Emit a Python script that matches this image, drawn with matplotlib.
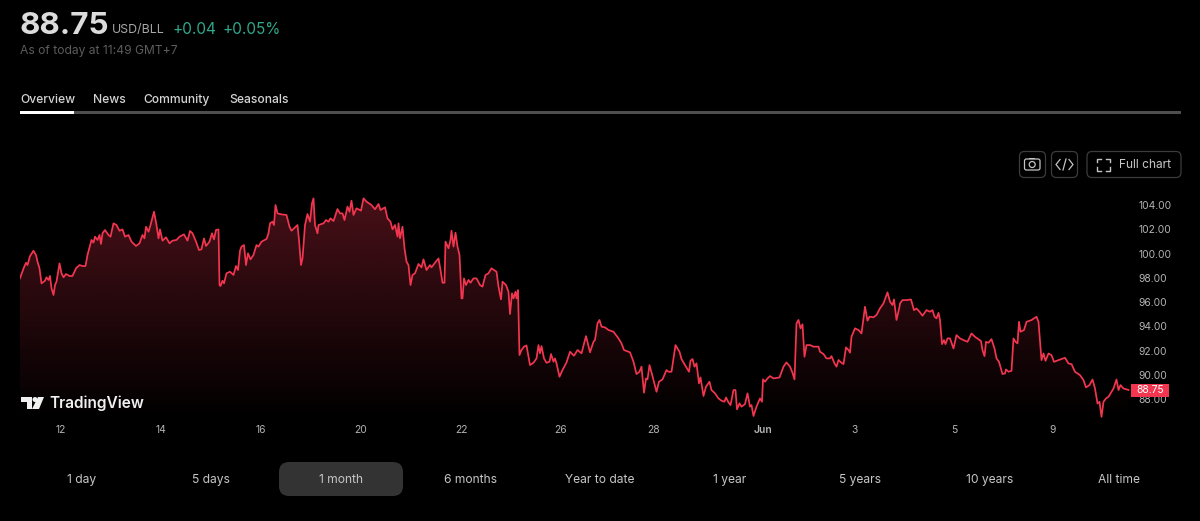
import numpy as np
import matplotlib
matplotlib.use("Agg")
import matplotlib.pyplot as plt
from matplotlib.patches import FancyBboxPatch, Polygon, Rectangle, Circle

plt.rcParams['font.family'] = ['Inter', 'DejaVu Sans']

# time is in trading days counted from the "12" tick, split by stretch of the month
days_a = [-0.82,-0.79,-0.74,-0.70,-0.67,-0.62,-0.55,-0.50,-0.47,-0.43,-0.39,-0.32,-0.29,-0.25,-0.22,-0.19,-0.15,-0.12,-0.09,-0.03,0.01,0.05,0.10,0.17,0.23,0.30,0.37,0.43,0.49,0.53,0.57,0.61,0.65,0.68,0.73,0.77,0.80,0.83,0.88,0.95,0.99,1.05,1.11,1.17,1.23,1.28,1.35,1.41,1.50,1.57,1.63,1.67,1.70,1.75,1.79,1.86,1.91,1.95,1.98,2.03,2.10,2.17,2.23,2.31,2.37,2.46,2.53,2.58,2.63,2.70,2.76,2.81,2.86,2.90,2.97,3.02,3.06,3.10,3.15,3.17,3.19,3.23,3.26,3.31,3.38,3.45,3.50,3.54,3.58,3.61,3.66,3.70,3.74,3.79,3.85,3.91,3.95,4.01,4.11,4.15,4.18,4.23,4.26,4.29,4.33,4.41,4.51,4.57,4.61,4.68,4.73,4.76]
price_a = [97.95,98.31,98.86,99.24,99.05,99.79,100.23,99.88,99.33,98.78,97.54,97.76,98.04,97.82,98.15,97.13,96.58,97.40,97.68,99.19,98.37,98.04,98.31,98.15,98.15,98.78,99.05,98.97,98.97,99.88,100.51,101.12,100.90,101.39,101.12,101.53,100.79,101.67,101.94,101.53,101.39,102.49,102.35,101.88,101.99,101.39,101.53,100.98,100.62,100.84,101.53,101.25,102.21,101.80,102.35,103.45,102.35,101.25,101.99,101.06,101.34,100.84,101.06,101.12,101.39,101.58,101.06,101.86,101.67,100.98,100.29,100.35,101.25,100.62,100.98,101.67,101.17,101.94,101.99,97.40,97.32,97.76,97.54,98.37,98.50,98.23,98.97,98.64,100.23,100.57,100.70,99.05,100.02,99.52,99.88,100.70,100.57,100.98,101.20,101.67,102.49,102.63,102.35,104.00,103.31,103.23,103.18,102.21,101.88,102.16,102.35,101.12]

days_b = [4.80,4.83,4.88,4.93,4.98,5.02,5.05,5.08,5.13,5.15,5.25,5.30,5.35,5.39,5.45,5.53,5.58,5.63,5.67,5.73,5.77,5.81,5.85,5.91,6.00,6.05,6.11,6.21,6.28,6.35,6.39,6.48,6.53,6.59,6.63,6.68,6.73,6.75,6.78,6.83,6.87,6.91,6.95,6.99,7.03,7.08,7.15,7.21,7.25,7.31,7.38,7.41,7.48,7.55,7.59,7.63,7.67,7.69,7.75,7.79,7.81,7.85,7.89,7.93,7.97,8.01,8.03,8.06,8.10,8.15,8.19,8.25,8.31,8.38,8.43,8.49,8.55,8.61,8.71,8.75,8.80,8.83,8.90,8.95,8.98,9.02,9.05,9.09,9.11,9.14,9.17,9.21,9.26,9.31,9.38,9.45,9.51,9.55,9.58,9.61,9.66,9.71,9.77,9.80,9.85,9.88,9.91,9.97,10.03,10.11,10.18,10.26,10.33,10.41,10.50,10.58,10.65,10.68,10.73,10.77]
price_b = [99.05,99.60,102.35,103.26,102.63,104.14,104.55,102.35,101.67,102.35,102.49,102.76,102.63,102.90,102.68,103.67,103.31,103.31,102.76,103.87,103.45,104.36,103.18,103.73,103.54,104.55,104.28,104.00,103.65,104.09,103.59,103.81,102.90,102.63,101.99,102.35,101.39,102.49,101.25,102.21,100.43,99.33,99.05,97.40,98.23,98.37,99.14,98.86,99.52,98.64,99.05,98.86,99.24,99.60,98.64,97.59,97.59,100.98,100.43,101.12,101.88,100.57,101.72,100.57,99.88,96.30,96.30,97.95,97.40,97.82,97.59,97.95,97.95,97.40,97.27,98.23,98.37,98.78,98.50,97.27,96.22,97.68,97.40,96.85,95.01,96.72,96.30,96.85,96.30,96.99,91.63,92.04,92.32,92.42,90.80,90.99,91.35,92.45,91.77,92.37,91.35,90.99,91.08,91.71,91.08,91.35,90.94,89.84,90.39,91.02,91.90,91.57,92.04,91.77,93.19,91.85,92.73,92.87,94.24,94.52]

days_c = [10.81,10.88,10.95,11.05,11.15,11.21,11.26,11.38,11.45,11.51,11.57,11.61,11.66,11.70,11.73,11.77,11.83,11.91,11.96,12.03,12.11,12.15,12.21,12.29,12.37,12.41,12.48,12.56,12.59,12.63,12.67,12.71,12.76,12.79,12.85,12.90,12.97,13.01,13.08,13.15,13.21,13.27,13.30,13.35,13.39,13.45,13.49,13.52,13.57,13.61,13.68,13.73,13.78,13.81,13.85,13.91,13.98,14.02,14.04,14.08,14.13,14.18,14.25,14.37,14.45,14.51,14.58,14.63,14.67,14.71,14.75,14.79,14.83,14.87,14.91,14.98,15.05,15.15,15.18,15.25,15.31,15.38,15.41,15.47,15.51,15.55,15.61,15.65,15.70,15.75,15.78,15.81,15.88,15.95,16.01,16.08,16.13,16.17,16.25,16.31,16.38,16.45,16.53,16.58,16.63,16.66,16.71,16.77]
price_c = [93.97,93.91,93.69,93.55,93.00,92.59,92.04,91.85,91.08,90.06,90.25,90.67,88.52,89.70,89.62,90.80,89.89,88.60,89.43,89.62,90.39,90.25,90.25,92.45,91.90,91.30,90.80,90.25,91.16,91.30,90.67,90.94,89.29,89.78,88.25,89.02,89.43,88.74,88.47,88.05,87.86,87.78,88.13,87.72,87.50,88.74,88.74,87.15,87.64,87.37,87.58,88.47,87.37,87.50,86.60,87.37,88.05,87.78,89.62,89.43,89.70,89.89,89.70,89.78,90.67,91.02,90.67,90.17,89.62,94.24,94.52,93.83,94.16,91.49,92.45,92.45,92.32,92.32,91.90,91.71,91.35,91.35,91.54,90.94,90.67,91.22,90.99,90.88,92.26,92.04,91.82,93.14,93.83,93.69,93.41,95.61,94.46,94.79,94.74,94.93,95.48,95.89,96.80,96.03,95.75,96.22,94.52,95.61]

days_d = [16.78,16.83,16.91,17.00,17.06,17.11,17.17,17.23,17.31,17.38,17.43,17.47,17.51,17.55,17.58,17.62,17.66,17.69,17.73,17.78,17.85,17.91,17.98,18.05,18.13,18.21,18.28,18.40,18.43,18.47,18.50,18.55,18.61,18.67,18.71,18.76,18.83,18.88,18.90,18.95,19.01,19.05,19.09,19.13,19.16,19.19,19.26,19.31,19.41,19.51,19.55,19.61,19.65,19.69,19.75,19.81,19.86,19.95,20.08,20.15,20.21,20.28,20.38,20.45,20.50,20.57,20.63,20.68,20.73,20.77,20.81,20.85,20.90,20.95,21.05,21.11,21.15,21.19,21.25,21.35]
price_d = [95.89,96.16,96.16,96.21,95.33,95.47,95.20,94.87,95.33,95.20,95.33,94.79,94.65,95.11,94.51,92.53,92.86,92.53,93.00,93.00,92.17,93.27,93.00,92.86,92.72,93.41,93.13,92.78,92.03,91.54,92.72,92.64,92.94,92.17,91.35,91.07,90.06,90.11,90.44,90.25,90.33,93.00,92.72,92.59,94.37,93.55,93.69,94.37,94.51,94.79,94.37,91.21,91.76,91.15,91.76,91.62,91.07,91.21,91.40,90.93,90.88,90.25,89.97,89.56,88.96,89.15,89.61,88.87,87.63,87.77,86.53,87.77,88.05,88.19,88.87,89.61,88.74,89.15,88.87,88.75]

tick_days = [0, 2, 4, 6, 8, 10, 11.86, 14.04, 15.86, 17.86, 19.84]
tick_labels = ['12', '14', '16', '20', '22', '26', '28', 'Jun', '3', '5', '9']
price_ticks = [88, 90, 92, 94, 96, 98, 100, 102, 104]
ranges = ['1 day', '5 days', '1 month', '6 months', 'Year to date', '1 year', '5 years', '10 years', 'All time']
tabs = ['Overview', 'News', 'Community', 'Seasonals']
last_price = 88.75

RED = '#f23650'
W, H = 1200, 521


def draw_price_area(ax, days, prices):
    # gradient under the line: image clipped to the filled area
    area = ax.fill_between(days, prices, 80, color='none', lw=0)
    rgba = np.zeros((256, 2, 4))
    rgba[..., :3] = matplotlib.colors.to_rgb(RED)
    rgba[..., 3] = np.linspace(0.31, 0.0, 256)[:, None]
    x0, x1 = ax.get_xlim()
    y0, y1 = ax.get_ylim()
    img = ax.imshow(rgba, extent=(x0, x1, y0, y1), origin='upper', aspect='auto', zorder=1)
    img.set_clip_path(area.get_paths()[0], ax.transData)
    ax.plot(days, prices, color=RED, lw=1.25, zorder=3, solid_joinstyle='round')
    ax.set_xlim(x0, x1)
    ax.set_ylim(y0, y1)


def box(ui, x, y, w, h, radius, face='none', edge='none'):
    ui.add_patch(FancyBboxPatch((x, y), w, h, boxstyle=f'round,pad=0,rounding_size={radius}',
                                fc=face, ec=edge, lw=0.9))


def draw_header(ui):
    ui.text(19.5, 26.5, f'{last_price:.2f}', color='#dcdcdc', fontsize=22.6, fontweight='bold', va='center')
    ui.text(112, 30, 'USD/BLL', color='#a8a8a8', fontsize=8.9, va='center')
    ui.text(173, 29.5, '+0.04', color='#2fa88c', fontsize=11, va='center')
    ui.text(222, 29.5, '+0.05%', color='#2fa88c', fontsize=11, va='center')
    ui.text(20, 51, 'As of today at 11:49 GMT+7', color='#5c5c5c', fontsize=8.7, va='center')
    for name, x in zip(tabs, [20, 93, 143, 229]):
        ui.text(x, 100, name, color='#d4d4d4', fontsize=8.7, fontweight='medium', va='center')
    ui.add_patch(Rectangle((20, 111), 1161, 3, fc='#4e4e4e', ec='none'))
    ui.add_patch(Rectangle((20, 111), 54, 3, fc='#ffffff', ec='none'))


def draw_buttons(ui):
    box(ui, 1019.5, 151.5, 26, 26, 5, edge='#3c3c3c')
    box(ui, 1051.5, 151.5, 26, 26, 5, edge='#3c3c3c')
    box(ui, 1087, 151.5, 94, 26, 5, edge='#3c3c3c')
    # camera
    box(ui, 1024.5, 159, 15.5, 11, 2, edge='#c4c4c4')
    ui.add_patch(Rectangle((1029, 157.5), 6, 1.5, fc='#c4c4c4', ec='none'))
    ui.add_patch(Circle((1032.2, 164.5), 3, fc='none', ec='#c4c4c4', lw=0.9))
    # </> icon
    ui.plot([1060, 1056, 1060], [159.5, 164.5, 169.5], color='#c4c4c4', lw=0.9)
    ui.plot([1069, 1073, 1069], [159.5, 164.5, 169.5], color='#c4c4c4', lw=0.9)
    ui.plot([1063, 1066], [170, 159], color='#c4c4c4', lw=0.9)
    # corners of the fullscreen icon
    for cx, cy, dx, dy in [(1097, 158.5, 1, 1), (1109.5, 158.5, -1, 1), (1097, 170.5, 1, -1), (1109.5, 170.5, -1, -1)]:
        ui.plot([cx, cx, cx + 3.5 * dx], [cy + 3.5 * dy, cy, cy], color='#c4c4c4', lw=1)
    ui.text(1119, 165, 'Full chart', color='#c8c8c8', fontsize=8.6, va='center')


def draw_logo(ui):
    white = '#f0f0f0'
    ui.add_patch(Polygon([(21, 397), (32, 397), (32, 409), (27, 409), (27, 402), (21, 402)], fc=white, ec='none'))
    ui.add_patch(Circle((35, 399.5), 2.5, fc=white, ec='none'))
    ui.add_patch(Polygon([(38, 397), (44, 397), (39, 409), (32, 409)], fc=white, ec='none'))
    ui.text(49, 403.5, 'TradingView', color=white, fontsize=11.1, fontweight='semibold', va='center')


def draw_ranges(ui):
    box(ui, 279, 462, 124, 34, 10, face='#333333')
    for name, x in zip(ranges, [82, 211, 341, 470, 600, 730, 860, 990, 1119]):
        ui.text(x, 480, name, color='#c6c6c6', fontsize=8.7, ha='center', va='center')


def main():
    days = days_a + days_b + days_c + days_d
    prices = price_a + price_b + price_c + price_d

    fig = plt.figure(figsize=(W / 100, H / 100), dpi=100, facecolor='black')

    # chart occupies x 20..1130 and y 190..420 of the picture
    ax = fig.add_axes([20 / W, 1 - 420 / H, 1110 / W, 230 / H], facecolor='black')
    ax.set_xlim(-0.82, 21.38)
    ax.set_ylim(86.27, 105.24)
    draw_price_area(ax, days, prices)
    for side in ax.spines.values():
        side.set_visible(False)
    ax.set_xticks(tick_days, tick_labels)
    ax.set_yticks(price_ticks, [f'{p:.2f}' for p in price_ticks])
    ax.yaxis.tick_right()
    ax.tick_params(axis='x', length=0, colors='#b4b4b4', labelsize=7.4, pad=3.5)
    ax.tick_params(axis='y', length=0, colors='#b4b4b4', labelsize=7.4, pad=6)
    ax.get_xticklabels()[7].set_fontweight('semibold')

    # last price tag sits over the axis labels
    tag_x = ax.get_yaxis_transform()
    ax.add_patch(Rectangle((1.001, last_price - 0.58), 38 / 1110, 1.1, transform=tag_x, fc=RED, ec='none',
                           clip_on=False, zorder=5))
    ax.text(1.001 + 19 / 1110, last_price - 0.03, f'{last_price:.2f}', transform=tag_x, color='#ffffff',
            fontsize=7.4, va='center', ha='center', zorder=6, clip_on=False)

    # everything around the chart is drawn in picture pixels
    ui = fig.add_axes([0, 0, 1, 1], facecolor='none')
    ui.set_xlim(0, W)
    ui.set_ylim(H, 0)
    ui.axis('off')
    draw_header(ui)
    draw_buttons(ui)
    draw_logo(ui)
    draw_ranges(ui)

    fig.savefig('out.png', dpi=100, facecolor='black')


if __name__ == '__main__':
    main()
